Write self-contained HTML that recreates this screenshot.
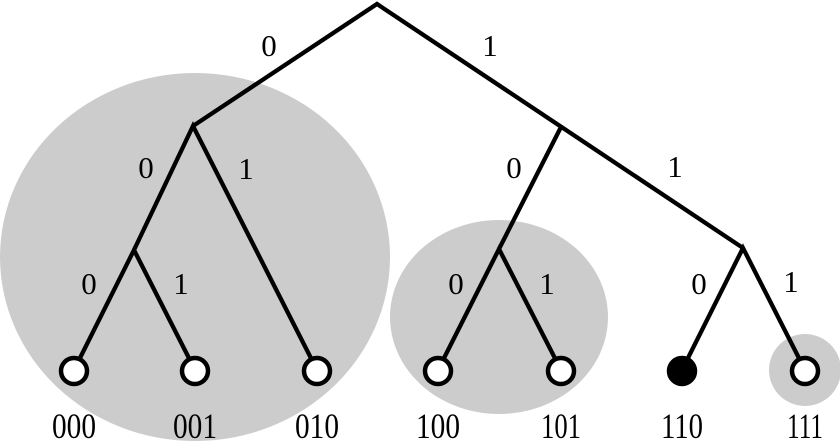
<!DOCTYPE html>
<html><head><meta charset="utf-8"><style>html,body{margin:0;padding:0;background:#fff}svg{display:block}</style></head>
<body>
<svg width="840" height="448" viewBox="0 0 840 448" xmlns="http://www.w3.org/2000/svg">
<ellipse cx="195" cy="257" rx="195" ry="184" fill="#cccccc"/>
<ellipse cx="499" cy="317" rx="109" ry="97" fill="#cccccc"/>
<circle cx="805" cy="370" r="36" fill="#cccccc"/>
<g stroke="#000" stroke-width="4.3" fill="none" stroke-linejoin="miter">
<polyline points="193,126 377,4 743,248"/>
<polyline points="74,370 134,250 195,370"/>
<polyline points="134,250 193,126 317,370"/>
<polyline points="438,370 499,249 561,370"/>
<line x1="499" y1="249" x2="561" y2="127"/>
<polyline points="682,370 743,248 805,370"/>
</g>
<g stroke="#000" stroke-width="4.5" fill="#fff">
<circle cx="74" cy="371" r="13"/>
<circle cx="195" cy="371" r="13"/>
<circle cx="317" cy="371" r="13"/>
<circle cx="438" cy="371" r="13"/>
<circle cx="561" cy="371" r="13"/>
<circle cx="682" cy="371" r="13" fill="#000"/>
<circle cx="805" cy="371" r="13"/>
</g>
<g style="font-family:'Liberation Serif',serif" font-size="31" text-anchor="middle" fill="#000">
<text x="269" y="56">0</text>
<text x="490" y="56">1</text>
<text x="146" y="178">0</text>
<text x="246" y="179">1</text>
<text x="514" y="178">0</text>
<text x="675" y="177">1</text>
<text x="89" y="294">0</text>
<text x="181" y="294">1</text>
<text x="456" y="294">0</text>
<text x="547" y="294">1</text>
<text x="699" y="294">0</text>
<text x="791" y="292">1</text>
</g>
<g style="font-family:'Liberation Serif',serif" font-size="36" text-anchor="middle" fill="#000">
<text x="74" y="438" textLength="44" lengthAdjust="spacingAndGlyphs">000</text>
<text x="195" y="438" textLength="44" lengthAdjust="spacingAndGlyphs">001</text>
<text x="317" y="438" textLength="44" lengthAdjust="spacingAndGlyphs">010</text>
<text x="438" y="438" textLength="44" lengthAdjust="spacingAndGlyphs">100</text>
<text x="561" y="438" textLength="40" lengthAdjust="spacingAndGlyphs">101</text>
<text x="682" y="438" textLength="42" lengthAdjust="spacingAndGlyphs">110</text>
<text x="805" y="438" textLength="36" lengthAdjust="spacingAndGlyphs">111</text>
</g>
</svg>
</body></html>
